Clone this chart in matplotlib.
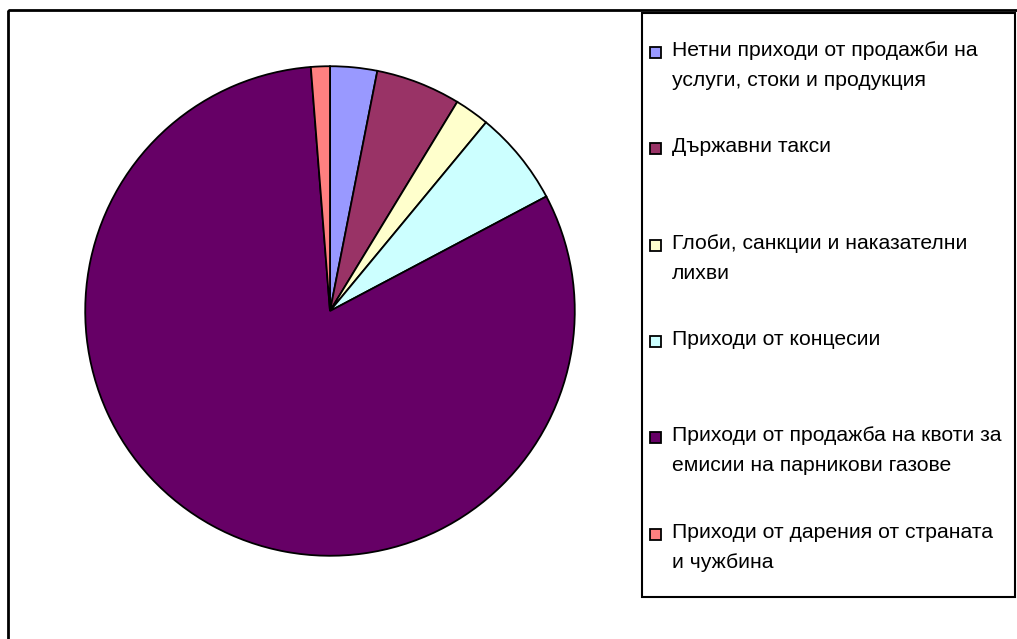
import matplotlib
matplotlib.use("Agg")
import matplotlib.pyplot as plt
from matplotlib.patches import Rectangle

labels = [
    "Нетни приходи от продажби на\nуслуги, стоки и продукция",
    "Държавни такси",
    "Глоби, санкции и наказателни\nлихви",
    "Приходи от концесии",
    "Приходи от продажба на квоти за\nемисии на парникови газове",
    "Приходи от дарения от страната\nи чужбина",
]
values = [3.1, 5.6, 2.3, 6.25, 81.5, 1.25]
colors = ["#9999FF", "#993366", "#FFFFCC", "#CCFFFF", "#660066", "#FF8080"]

plt.rcParams['font.family'] = ['Liberation Sans', 'DejaVu Sans']

W, H = 1017, 639
fig = plt.figure(figsize=(W / 100, H / 100), dpi=100)

# pie axes, square, in pixel terms
ax = fig.add_axes([84 / W, (H - 557) / H, 492 / W, 492 / H])
ax.pie(values, colors=colors, startangle=90, counterclock=False,
       wedgeprops=dict(edgecolor='black', linewidth=1.3))
ax.set_xlim(-1.005, 1.005)
ax.set_ylim(-1.005, 1.005)
ax.set_aspect('equal')
ax.axis('off')

# overlay in pixel coords for frame and legend
ov = fig.add_axes([0, 0, 1, 1], zorder=-1)
ov.set_xlim(0, W)
ov.set_ylim(H, 0)
ov.axis('off')
ov.add_patch(Rectangle((8, 10), W + 20, H + 20, fill=False, edgecolor='black', linewidth=2))

ov2 = fig.add_axes([0, 0, 1, 1])
ov2.set_xlim(0, W)
ov2.set_ylim(H, 0)
ov2.axis('off')
ov2.patch.set_alpha(0)
ov2.add_patch(Rectangle((642, 13), 373, 584, facecolor='white', edgecolor='black', linewidth=1.5))

for i, (lab, c) in enumerate(zip(labels, colors)):
    y = 52 + i * 96.3
    ov2.add_patch(Rectangle((650, y - 5), 11, 11, facecolor=c, edgecolor='black', linewidth=1.3))
    ov2.text(672, y - 11, lab, fontsize=15.2, va='top', ha='left',
             linespacing=1.75, color='black')

fig.savefig("out.png", dpi=100)
